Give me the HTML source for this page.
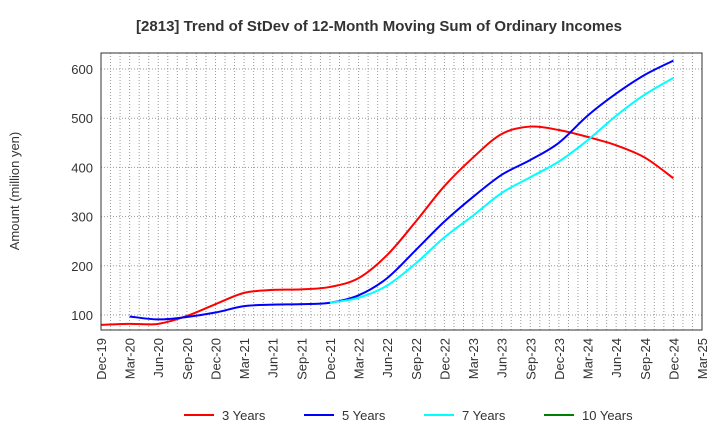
<!DOCTYPE html>
<html><head><meta charset="utf-8"><style>
body{margin:0;background:#fff;font-family:"Liberation Sans",sans-serif;}
</style></head><body>
<svg id="c" width="720" height="440" xmlns="http://www.w3.org/2000/svg">
<text x="379" y="31" text-anchor="middle" font-size="15" font-weight="bold" fill="#333">[2813]  Trend of StDev of 12-Month Moving Sum of Ordinary Incomes</text>
<text transform="translate(19,191) rotate(-90)" text-anchor="middle" font-size="13" fill="#333">Amount (million yen)</text>
<g id="grid"></g><g id="series"></g><g id="axes"></g><g id="legend"></g>
</svg>
<script>
const xLabels=["Dec-19","Mar-20","Jun-20","Sep-20","Dec-20","Mar-21","Jun-21","Sep-21","Dec-21","Mar-22","Jun-22","Sep-22","Dec-22","Mar-23","Jun-23","Sep-23","Dec-23","Mar-24","Jun-24","Sep-24","Dec-24","Mar-25"];
const yTicks=[100,200,300,400,500,600];
const s3=[80,82,82,98,122,145,151,152,157,175,222,290,362,420,468,483,476,462,445,420,378];
const s5=[null,97,91,96,105,118,121,122,125,140,175,232,290,340,385,415,450,505,550,588,617];
const s7=[null,null,null,null,null,null,null,null,125,135,160,205,258,302,348,380,412,455,505,548,582];
const s10=[];
const L=101,R=702,T=53,B=330;
const NS="http://www.w3.org/2000/svg";
const xq=q=>L+q*(R-L)/21;
const y=v=>315-(v-100)*(246/500);
function mk(t,a,p){const e=document.createElementNS(NS,t);for(const k in a)e.setAttribute(k,a[k]);document.getElementById(p).appendChild(e);return e;}
for(let m=1;m<63;m++){const x=L+m*(R-L)/63;const g=mk('line',{x1:x,x2:x,y1:T,y2:B,stroke:'#999','stroke-dasharray':'1,2','stroke-width':1},'grid');

}
yTicks.forEach(v=>{const g=mk('line',{x1:L,x2:R,y1:y(v),y2:y(v),stroke:'#999','stroke-dasharray':'1,2'},'grid');


const t=mk('text',{x:L-8,y:y(v)+5,'text-anchor':'end','font-size':13,fill:'#333'},'axes');t.textContent=v;

});
const fr=mk('rect',{x:L,y:T,width:R-L,height:B-T,fill:'none',stroke:'#333'},'axes');


xLabels.forEach((l,i)=>{const x=xq(i);const t=mk('text',{transform:`translate(${x+5},${B+8}) rotate(-90)`,'text-anchor':'end','font-size':13,fill:'#333'},'axes');t.textContent=l;

});
function path(arr){const p=[];arr.forEach((v,i)=>{if(v!=null)p.push([xq(i),y(v)]);});if(p.length<2)return'';
let d=`M${p[0][0]},${p[0][1]}`;for(let i=0;i<p.length-1;i++){const p0=p[i-1]||p[i],p1=p[i],p2=p[i+1],p3=p[i+2]||p2;
d+=` C${p1[0]+(p2[0]-p0[0])/6},${p1[1]+(p2[1]-p0[1])/6} ${p2[0]-(p3[0]-p1[0])/6},${p2[1]-(p3[1]-p1[1])/6} ${p2[0]},${p2[1]}`;}return d;}
[[s3,'#ff0000','line-3-years'],[s5,'#0000ff','line-5-years'],[s7,'#00ffff','line-7-years'],[s10,'#008000','line-10-years']].forEach(([a,c,n])=>{
const d=path(a);if(!d)return;const e=mk('path',{d:d,fill:'none',stroke:c,'stroke-width':2},'series');

});
[['3 Years','#ff0000',184],['5 Years','#0000ff',304],['7 Years','#00ffff',424],['10 Years','#008000',544]].forEach(([l,c,x])=>{
const g=mk('g',{},'legend');


const ln=document.createElementNS(NS,'line');ln.setAttribute('x1',x);ln.setAttribute('x2',x+30);ln.setAttribute('y1',415);ln.setAttribute('y2',415);ln.setAttribute('stroke',c);ln.setAttribute('stroke-width',2);g.appendChild(ln);
const t=document.createElementNS(NS,'text');t.setAttribute('x',x+38);t.setAttribute('y',420);t.setAttribute('font-size',13);t.setAttribute('fill','#333');t.textContent=l;g.appendChild(t);});
</script>
</body></html>
